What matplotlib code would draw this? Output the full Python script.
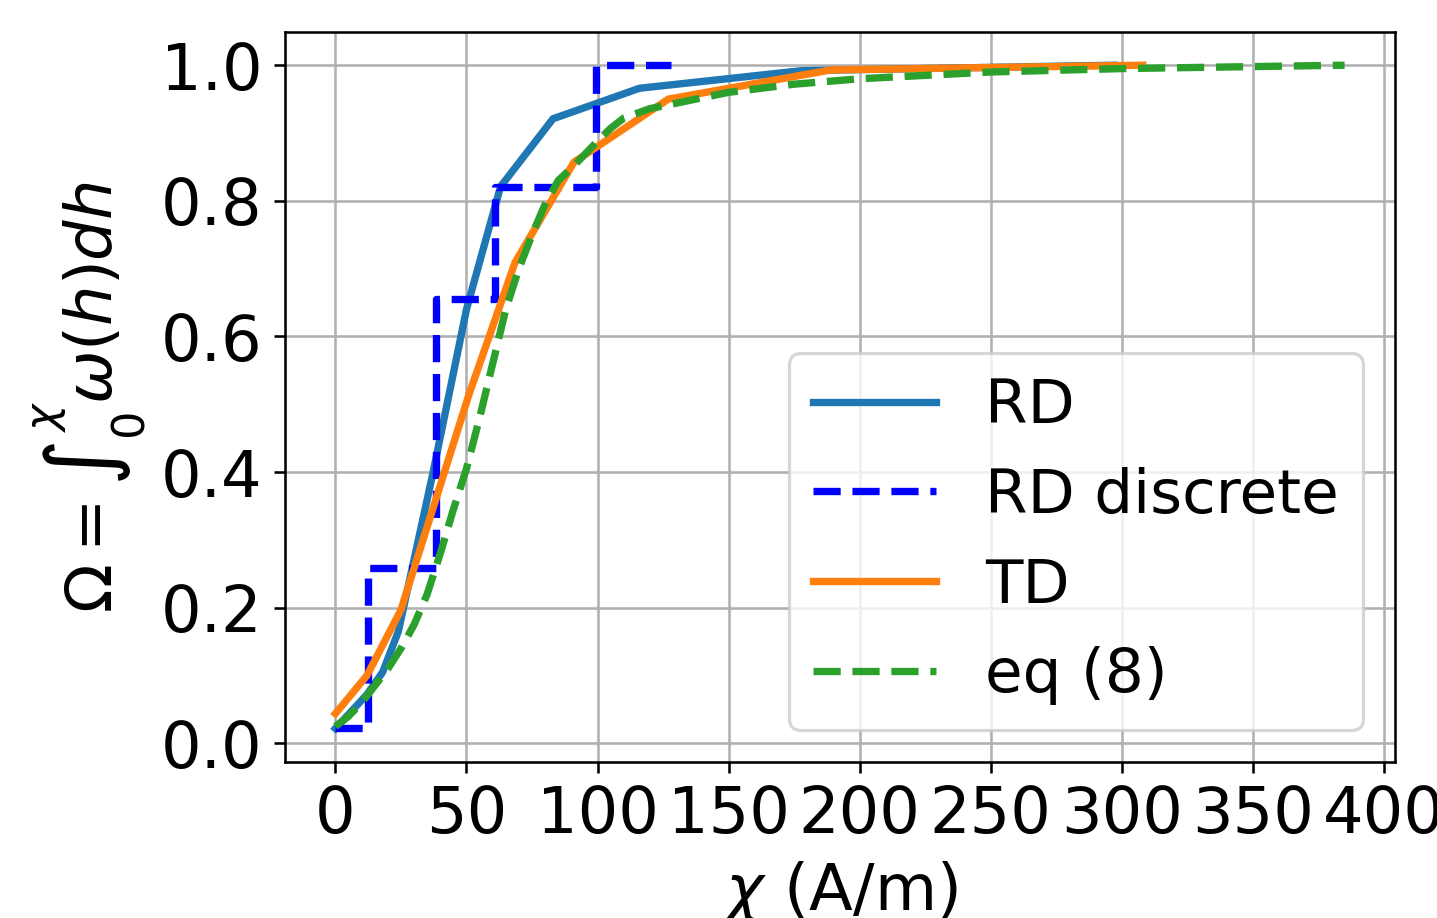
import matplotlib
matplotlib.use("Agg")
import matplotlib.pyplot as plt

# RD (continuous)
rd_x = [0, 12, 18, 24, 37, 50, 63, 83, 116, 178, 297]
rd_y = [0.022, 0.072, 0.105, 0.165, 0.395, 0.64, 0.821, 0.921, 0.966, 0.992, 1.0]

# RD discrete (step)
rdd_x = [0, 12.6, 38.2, 60.9, 99.4, 128]
rdd_y = [0.022, 0.258, 0.655, 0.821, 1.0, 1.0]

# TD
td_x = [0, 12, 25, 51, 68.5, 91, 127, 189, 308]
td_y = [0.044, 0.10, 0.197, 0.515, 0.709, 0.857, 0.95, 0.993, 1.0]

# eq (8)
eq_x = [0, 5, 10, 15, 20, 25, 30, 35, 40, 45, 50, 55, 60, 65, 70, 75, 80, 85, 90,
        95, 100, 105, 110, 120, 130, 150, 175, 200, 250, 300, 385]
eq_y = [0.025, 0.04, 0.06, 0.085, 0.11, 0.14, 0.175, 0.22, 0.28, 0.345, 0.405, 0.48,
        0.56, 0.64, 0.70, 0.75, 0.795, 0.83, 0.848, 0.868, 0.888, 0.907, 0.922, 0.936,
        0.944, 0.96, 0.972, 0.98, 0.99, 0.995, 1.0]

plt.rcParams['font.size'] = 20
plt.rcParams['lines.linewidth'] = 2.3

dpi = 230
fig = plt.figure(figsize=(1437 / dpi, 918 / dpi), dpi=dpi)
ax = fig.add_axes([0.1983, 0.1703, 0.9708 - 0.1983, 0.9651 - 0.1703])

ax.plot(rd_x, rd_y, color='C0', label='RD')
ax.plot(rdd_x, rdd_y, 'b--', drawstyle='steps-post', label='RD discrete')
ax.plot(td_x, td_y, color='C1', label='TD')
ax.plot(eq_x, eq_y, '--', color='C2', label='eq (8)')

ax.set_xticks([0, 50, 100, 150, 200, 250, 300, 350, 400])
ax.set_yticks([0.0, 0.2, 0.4, 0.6, 0.8, 1.0])
ax.grid(True)
ax.set_xlabel(r'$\chi$ (A/m)')
ax.set_ylabel(r'$\Omega = \int_0^\chi \omega(h)dh$')
ax.legend(loc='lower right', fontsize=19.2, borderaxespad=0.52)

fig.savefig('out.png', dpi=dpi)
